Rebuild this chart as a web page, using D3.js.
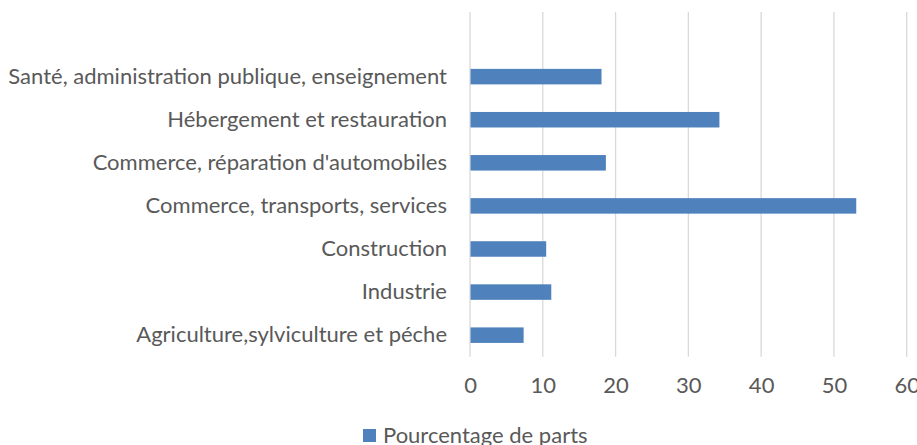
<!DOCTYPE html>
<html>
<head>
<meta charset="utf-8">
<script src="https://cdn.jsdelivr.net/npm/d3@7"></script>
<style>
  body { margin: 0; background: #fff; }
  text { font-family: Lato, "Open Sans", sans-serif; fill: #595959; }
</style>
</head>
<body>
<div class="chart"></div>
<script>
const WIDTH = 917
const HEIGHT = 445
const SECTEURS = [
  "Santé, administration publique, enseignement",
  "Hébergement et restauration",
  "Commerce, réparation d'automobiles",
  "Commerce, transports, services",
  "Construction",
  "Industrie",
  "Agriculture,sylviculture et péche"
]
const PARTS = [18.0, 34.2, 18.6, 53.0, 10.4, 11.1, 7.3]
const X_TICKS = [0, 10, 20, 30, 40, 50, 60]
const LEGEND_LABEL = "Pourcentage de parts"

const LEFT = 470, RIGHT = 906.7, TOP = 12, BOTTOM = 356.7
const BLUE = "#4f81bd"
const GRID = "#d9d9d9"
const FONT_SIZE = 22

let data = SECTEURS.map((s, i) => ({ secteur: s, part: PARTS[i] }))

let svg = d3.select(".chart").append("svg").attr("width", WIDTH).attr("height", HEIGHT)

// X scale + grid
let xScale = d3.scaleLinear().domain([0, 60]).range([LEFT, RIGHT])
// one empty slot at the top, as in the source sheet
let yScale = d3.scaleBand().domain([""].concat(SECTEURS)).range([TOP, BOTTOM]).padding(0)
let barH = yScale.bandwidth() * 0.36

svg.append("g").selectAll("line").data(X_TICKS).join("line")
  .attr("x1", d => xScale(d)).attr("x2", d => xScale(d))
  .attr("y1", TOP).attr("y2", BOTTOM)
  .attr("stroke", GRID).attr("stroke-width", 1.3)

// bars
svg.append("g").selectAll("rect").data(data).join("rect")
  .attr("x", xScale(0) + 0.5)
  .attr("y", d => yScale(d.secteur) + (yScale.bandwidth() - barH) / 2)
  .attr("width", d => xScale(d.part) - xScale(0))
  .attr("height", barH)
  .attr("fill", BLUE)

// Y-Axis labels
let leftAxis = d3.axisLeft(yScale).tickSize(0).tickPadding(23)
let yAxis = svg.append("g").attr("transform", `translate(${LEFT}, 0)`).call(leftAxis)
yAxis.select(".domain").remove()
yAxis.selectAll("text").attr("font-size", FONT_SIZE).style("font-family", "Lato, sans-serif").attr("fill", "#595959")

// X-Axis labels
let bottomAxis = d3.axisBottom(xScale).tickValues(X_TICKS).tickSize(0).tickPadding(21)
let xAxis = svg.append("g").attr("transform", `translate(0, ${BOTTOM})`).call(bottomAxis)
xAxis.select(".domain").remove()
xAxis.selectAll("text").attr("font-size", FONT_SIZE).style("font-family", "Lato, sans-serif").attr("fill", "#595959")

// legend
let legend = svg.append("g")
legend.append("rect").attr("x", 363).attr("y", 429).attr("width", 13).attr("height", 13).attr("fill", BLUE)
legend.append("text").attr("x", 383).attr("y", 443).attr("font-size", FONT_SIZE).text(LEGEND_LABEL)
</script>
</body>
</html>
